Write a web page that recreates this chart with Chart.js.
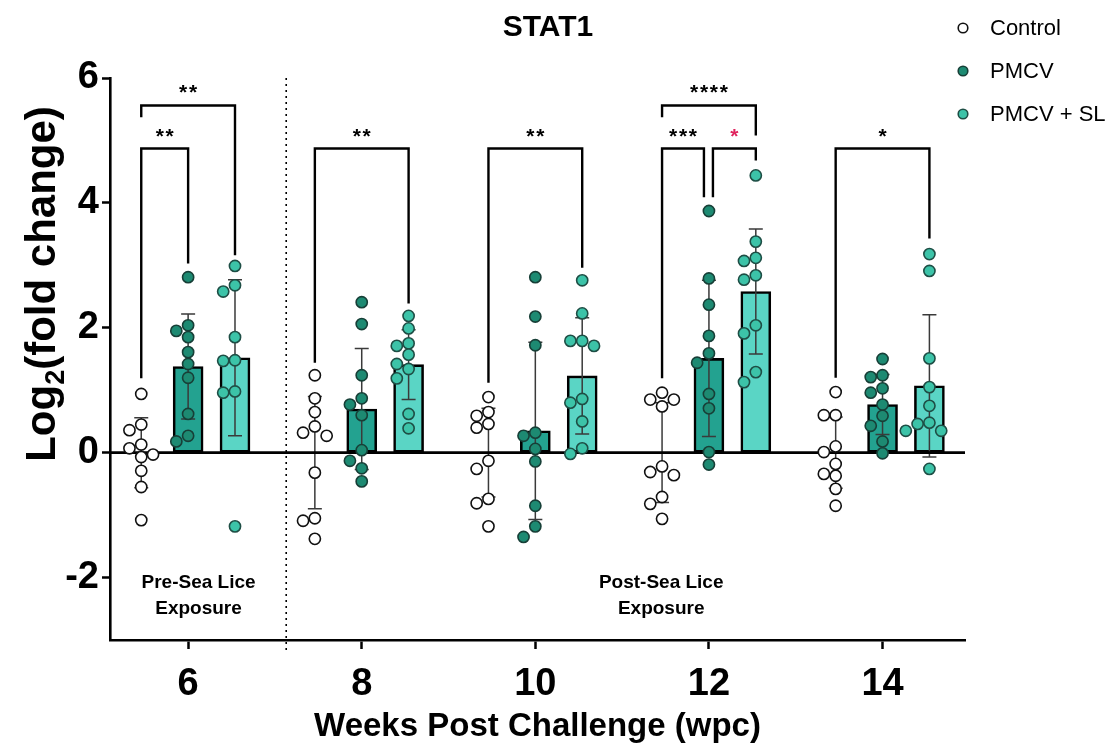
<!DOCTYPE html>
<html><head><meta charset="utf-8">
<script src="https://cdn.jsdelivr.net/npm/chart.js@4"></script>
<style>html,body{margin:0;padding:0;background:#fff}#wrap{width:1114px;height:750px}</style>
</head><body><div id="wrap"><canvas id="c" width="1114" height="750"></canvas></div>
<script>
// ---------------- data ----------------
const weeks = [6, 8, 10, 12, 14];
const seriesNames = ['Control', 'PMCV', 'PMCV + SL'];
const xTicks = [6, 8, 10, 12, 14];
const yTicks = [-2, 0, 2, 4, 6];

const controlPoints = [
  [0.94, 0.45, 0.36, 0.13, 0.07, -0.03, -0.07, -0.29, -0.55, -1.08],
  [1.24, 0.87, 0.65, 0.42, 0.32, 0.27, -0.32, -1.05, -1.09, -1.38],
  [0.89, 0.65, 0.59, 0.46, 0.40, -0.13, -0.26, -0.74, -0.81, -1.18],
  [0.96, 0.85, 0.85, 0.74, -0.22, -0.31, -0.36, -0.71, -0.82, -1.06],
  [0.97, 0.60, 0.60, 0.10, 0.01, -0.18, -0.34, -0.37, -0.58, -0.85]
];
const pmcvPoints = [
  [2.81, 2.04, 1.95, 1.85, 1.61, 1.42, 1.20, 0.62, 0.27, 0.18],
  [2.41, 2.06, 1.24, 0.87, 0.77, 0.60, 0.04, -0.13, -0.25, -0.46],
  [2.81, 2.18, 1.72, 0.32, 0.27, 0.06, -0.14, -0.85, -1.18, -1.35],
  [3.87, 2.79, 2.37, 1.87, 1.59, 1.44, 0.94, 0.71, 0.01, -0.19],
  [1.50, 1.24, 1.21, 1.03, 0.96, 0.77, 0.59, 0.43, 0.18, -0.01]
];
const slPoints = [
  [2.99, 2.68, 2.58, 1.85, 1.48, 1.47, 0.98, 0.96, -1.18],
  [2.19, 1.99, 1.75, 1.71, 1.57, 1.42, 1.34, 1.19, 0.62, 0.39],
  [2.76, 2.23, 1.79, 1.79, 1.71, 0.86, 0.80, 0.50, 0.07, -0.02],
  [4.44, 3.38, 3.12, 3.07, 2.84, 2.77, 2.04, 1.91, 1.29, 1.13],
  [3.18, 2.91, 1.51, 1.05, 0.75, 0.48, 0.46, 0.35, 0.35, -0.26]
];
const controlMean = [0.0, 0.0, 0.0, 0.0, 0.0];
const controlSD   = [0.56, 0.90, 0.71, 0.80, 0.57];
const pmcvMean    = [1.38, 0.70, 0.35, 1.51, 0.77];
const pmcvSD      = [0.84, 0.97, 1.42, 1.25, 0.48];
const slMean      = [1.52, 1.41, 1.23, 2.58, 1.07];
const slSD        = [1.25, 0.56, 0.93, 1.00, 1.14];

// significance comparisons: [week index, from series, to series, label]
const comparisons = [
  [0, 0, 1, '**'], [0, 0, 2, '**'],
  [1, 0, 2, '**'],
  [2, 0, 2, '**'],
  [3, 0, 1, '***'], [3, 1, 2, '*'], [3, 0, 2, '****'],
  [4, 0, 2, '*']
];

// ---------------- layout / style ----------------
const F = "'Liberation Sans', Arial, Helvetica, sans-serif";
const slotOffset = [-0.54, 0, 0.54];
const PX_PER_WEEK = 86.8, PX_PER_UNIT = 62.4, DOT_D = 11.8;
const barFill = ['#ffffff', '#23a290', '#5ad5c5'];
const dotFill = ['#ffffff', '#1d8a72', '#3cc3a8'];
const dotStroke = ['#111111', '#173f37', '#1e4e45'];
const means = [controlMean, pmcvMean, slMean];
const sds = [controlSD, pmcvSD, slSD];
const pts = [controlPoints, pmcvPoints, slPoints];

const bracketStyle = [
  {top: 4.87, left: 1.19, right: 3.03, insetL: 0, insetR: 0, color: '#000'},
  {top: 5.56, left: 5.37, right: 3.16, insetL: 0, insetR: 0, color: '#000'},
  {top: 4.87, left: 1.44, right: 2.39, insetL: 0, insetR: 0, color: '#000'},
  {top: 4.87, left: 1.12, right: 2.96, insetL: 0, insetR: 0, color: '#000'},
  {top: 4.87, left: 1.19, right: 4.09, insetL: 0, insetR: -5, color: '#000'},
  {top: 4.87, left: 4.09, right: 4.68, insetL: 4, insetR: 0, color: '#000', textColor: '#e0245e'},
  {top: 5.56, left: 5.37, right: 5.08, insetL: 0, insetR: 0, color: '#000'},
  {top: 4.87, left: 1.20, right: 3.43, insetL: 0, insetR: 0, color: '#000'}
];

function swarm(values, center) {
  const order = values.map((v, i) => i).sort((a, b) => values[b] - values[a]);
  const placed = [], out = [];
  const cands = [0, -1, 1, -2, 2, -3, 3];
  for (const i of order) {
    const v = values[i];
    for (const k of cands) {
      const ok = placed.every(p => {
        const dx = (p.k - k) * DOT_D, dy = (p.v - v) * PX_PER_UNIT;
        return dx * dx + dy * dy >= DOT_D * DOT_D * 0.9;
      });
      if (ok) { placed.push({k, v}); out.push({x: center + k * DOT_D / PX_PER_WEEK, y: v}); break; }
    }
  }
  return out;
}

const datasets = [];
for (let s = 0; s < 3; s++) {
  datasets.push({
    type: 'scatter', label: seriesNames[s], order: 0,
    data: weeks.flatMap((w, g) => swarm(pts[s][g], w + slotOffset[s])),
    pointRadius: 5.6, pointHoverRadius: 5.6, pointBorderWidth: 1.6,
    pointBackgroundColor: dotFill[s], pointBorderColor: dotStroke[s], showLine: false
  });
}
for (let s = 0; s < 3; s++) {
  datasets.push({
    type: 'bar', label: seriesNames[s] + ' mean', order: 1, isBar: true, series: s,
    data: weeks.map((w, g) => ({x: w + slotOffset[s], y: means[s][g]})),
    backgroundColor: barFill[s], borderColor: '#000', borderWidth: 2.6,
    borderSkipped: false, grouped: false, barThickness: 30
  });
}

const deco = {
  id: 'deco',
  beforeDatasetsDraw(chart) {
    const {ctx, chartArea: a, scales: {x}} = chart;
    ctx.save();
    const xs = x.getPixelForValue(7.13);
    ctx.strokeStyle = '#000'; ctx.lineWidth = 1.6; ctx.setLineDash([2, 4]);
    ctx.beginPath(); ctx.moveTo(xs, a.top); ctx.lineTo(xs, a.bottom + 14); ctx.stroke();
    ctx.setLineDash([]);
    ctx.restore();
  },
  afterDatasetDraw(chart, args) {
    const ds = chart.data.datasets[args.index];
    if (!ds.isBar) return;
    const {ctx, scales: {x, y}} = chart;
    const s = ds.series;
    ctx.save();
    ctx.strokeStyle = '#3a3a3a'; ctx.lineWidth = 1.5;
    weeks.forEach((w, g) => {
      const cx = x.getPixelForValue(w + slotOffset[s]);
      const yt = y.getPixelForValue(means[s][g] + sds[s][g]);
      const yb = y.getPixelForValue(means[s][g] - sds[s][g]);
      ctx.beginPath();
      ctx.moveTo(cx, yt); ctx.lineTo(cx, yb);
      ctx.moveTo(cx - 7, yt); ctx.lineTo(cx + 7, yt);
      ctx.moveTo(cx - 7, yb); ctx.lineTo(cx + 7, yb);
      ctx.stroke();
    });
    if (s === 0) {
      const a = chart.chartArea, y0 = y.getPixelForValue(0);
      ctx.strokeStyle = '#000'; ctx.lineWidth = 2.6;
      ctx.beginPath(); ctx.moveTo(a.left, y0); ctx.lineTo(a.right, y0); ctx.stroke();
    }
    ctx.restore();
  },
  afterDatasetsDraw(chart) {
    const {ctx, scales: {x, y}} = chart;
    ctx.save();
    comparisons.forEach((c, i) => {
      const st = bracketStyle[i];
      const [g, a, b, label] = c;
      const xl = x.getPixelForValue(weeks[g] + slotOffset[a]) + st.insetL;
      const xr = x.getPixelForValue(weeks[g] + slotOffset[b]) + st.insetR;
      const yt = y.getPixelForValue(st.top);
      ctx.strokeStyle = st.color; ctx.lineWidth = 2.4; ctx.lineJoin = 'miter';
      ctx.beginPath();
      ctx.moveTo(xl, y.getPixelForValue(st.left)); ctx.lineTo(xl, yt);
      ctx.lineTo(xr, yt); ctx.lineTo(xr, y.getPixelForValue(st.right));
      ctx.stroke();
      ctx.fillStyle = st.textColor || '#000';
      ctx.font = 'bold 21px ' + F; ctx.textAlign = 'center'; ctx.textBaseline = 'alphabetic';
      ctx.fillText(label.split('').join('\u200A'), (xl + xr) / 2, yt - 6);
    });
    ctx.fillStyle = '#000'; ctx.font = 'bold 19px ' + F; ctx.textAlign = 'center'; ctx.textBaseline = 'middle';
    const xp = x.getPixelForValue(6.12), xq = x.getPixelForValue(11.45);
    const y1 = y.getPixelForValue(-2.08), y2 = y.getPixelForValue(-2.5);
    ctx.fillText('Pre-Sea Lice', xp, y1); ctx.fillText('Exposure', xp, y2);
    ctx.fillText('Post-Sea Lice', xq, y1); ctx.fillText('Exposure', xq, y2);
    ctx.restore();
  },
  afterDraw(chart) {
    const {ctx, chartArea: a} = chart;
    ctx.save();
    ctx.fillStyle = '#000';
    ctx.textAlign = 'center'; ctx.textBaseline = 'middle';
    ctx.font = 'bold 30px ' + F;
    ctx.fillText('STAT1', 548, 28);
    ctx.font = 'bold 33px ' + F;
    ctx.fillText('Weeks Post Challenge (wpc)', (a.left + a.right) / 2, 727);
    ctx.translate(41, 284); ctx.rotate(-Math.PI / 2);
    const f1 = 'bold 42px ' + F, f2 = 'bold 27px ' + F;
    ctx.font = f1; const w1 = ctx.measureText('Log').width, w3 = ctx.measureText('(fold change)').width;
    ctx.font = f2; const w2 = ctx.measureText('2').width;
    let sx = -(w1 + w2 + w3) / 2;
    ctx.textAlign = 'left'; ctx.textBaseline = 'alphabetic';
    ctx.font = f1; ctx.fillText('Log', sx, 14); sx += w1;
    ctx.font = f2; ctx.fillText('2', sx, 23); sx += w2;
    ctx.font = f1; ctx.fillText('(fold change)', sx, 14);
    ctx.setTransform(1, 0, 0, 1, 0, 0);
    const ly = [28, 71, 114];
    ctx.font = '22px ' + F; ctx.textAlign = 'left'; ctx.textBaseline = 'middle';
    for (let s = 0; s < 3; s++) {
      ctx.beginPath(); ctx.arc(963, ly[s], 4.8, 0, Math.PI * 2);
      ctx.fillStyle = dotFill[s]; ctx.fill();
      ctx.lineWidth = 1.6; ctx.strokeStyle = dotStroke[s]; ctx.stroke();
      ctx.fillStyle = '#000'; ctx.fillText(seriesNames[s], 990, ly[s] + 1);
    }
    ctx.restore();
  }
};

new Chart(document.getElementById('c'), {
  data: {datasets},
  options: {
    responsive: false, animation: false, devicePixelRatio: 1,
    layout: {padding: {left: 0, right: 149, top: 78, bottom: 0}},
    plugins: {legend: {display: false}, tooltip: {enabled: false}, title: {display: false}},
    scales: {
      x: {
        type: 'linear', min: 5.1, max: 14.95, offset: false,
        afterBuildTicks: s => { s.ticks = xTicks.map(v => ({value: v})); },
        afterFit: s => { s.height = 110; },
        ticks: {font: {family: F, size: 38, weight: 'bold'}, color: '#000', padding: 13, maxRotation: 0, autoSkip: false,
                callback: v => String(v)},
        grid: {offset: false, drawOnChartArea: false, drawTicks: true, tickLength: 9, tickWidth: 2.5, tickColor: '#000', color: '#000'},
        border: {display: true, color: '#000', width: 2.6}
      },
      y: {
        type: 'linear', min: -3, max: 6,
        afterBuildTicks: s => { s.ticks = yTicks.map(v => ({value: v})); },
        afterFit: s => { s.width = 110; },
        ticks: {font: {family: F, size: 38, weight: 'bold'}, color: '#000', padding: 3, callback: v => String(v)},
        grid: {drawOnChartArea: false, drawTicks: true, tickLength: 8, tickWidth: 2.5, tickColor: '#000', color: '#000'},
        border: {display: true, color: '#000', width: 2.6}
      }
    }
  },
  plugins: [deco]
});
</script></body></html>
